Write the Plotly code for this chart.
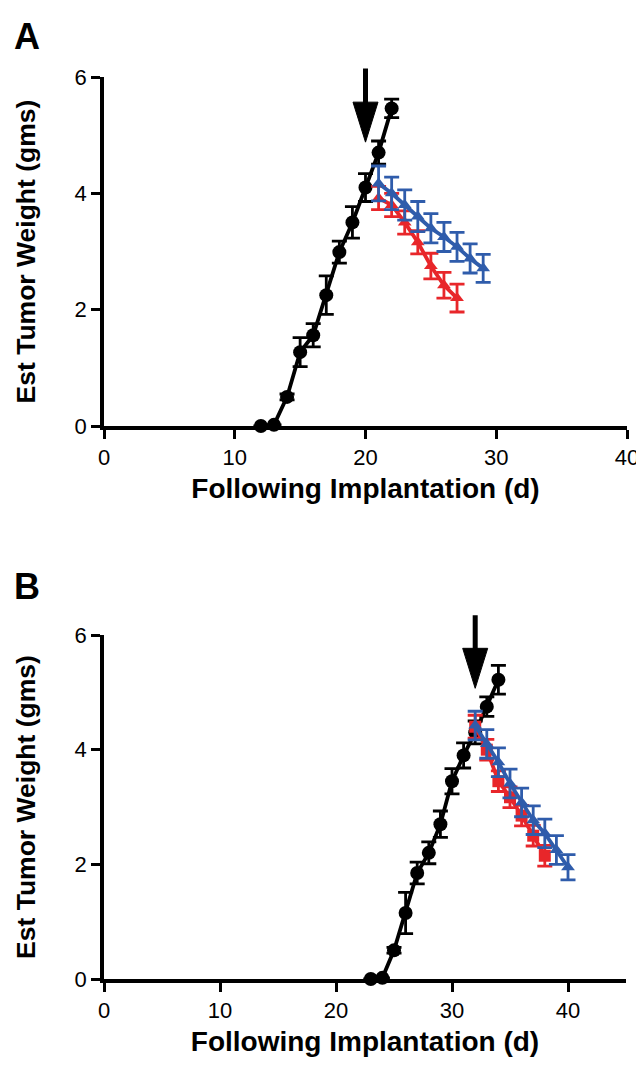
import plotly.graph_objects as go

# ---------------- data ----------------
# Panel A
a_black_day = [12, 13, 14, 15, 16, 17, 18, 19, 20, 21, 22]
a_black_wt = [0.0, 0.02, 0.5, 1.27, 1.56, 2.25, 2.99, 3.5, 4.1, 4.7, 5.46]
a_black_err = [0.0, 0.0, 0.05, 0.25, 0.2, 0.33, 0.19, 0.27, 0.24, 0.2, 0.16]

a_red_day = [21, 22, 23, 24, 25, 26, 27]
a_red_wt = [3.92, 3.8, 3.5, 3.16, 2.75, 2.42, 2.2]
a_red_err = [0.2, 0.2, 0.2, 0.2, 0.22, 0.22, 0.24]

a_blue_day = [21, 22, 23, 24, 25, 26, 27, 28, 29]
a_blue_wt = [4.17, 4.0, 3.8, 3.6, 3.4, 3.25, 3.08, 2.88, 2.71]
a_blue_err = [0.3, 0.28, 0.26, 0.26, 0.25, 0.25, 0.25, 0.25, 0.24]

# Panel B
b_black_day = [23, 24, 25, 26, 27, 28, 29, 30, 31, 32, 33, 34]
b_black_wt = [0.0, 0.02, 0.5, 1.15, 1.85, 2.2, 2.7, 3.45, 3.9, 4.3, 4.75, 5.22]
b_black_err = [0.0, 0.0, 0.05, 0.36, 0.19, 0.19, 0.23, 0.22, 0.22, 0.2, 0.17, 0.25]

b_red_day = [32, 33, 34, 35, 36, 37, 38]
b_red_wt = [4.4, 4.0, 3.45, 3.17, 2.85, 2.5, 2.15]
b_red_err = [0.2, 0.18, 0.18, 0.18, 0.18, 0.18, 0.18]

b_blue_day = [32, 33, 34, 35, 36, 37, 38, 39, 40]
b_blue_wt = [4.42, 4.1, 3.78, 3.41, 3.08, 2.77, 2.54, 2.25, 1.95]
b_blue_err = [0.25, 0.25, 0.25, 0.25, 0.25, 0.25, 0.25, 0.25, 0.22]

# treatment arrows: (day, tip weight, tail weight)
arrow_a = (20, 4.88, 6.17)
arrow_b = (32, 5.07, 6.37)

x_ticks_a = [0, 10, 20, 30, 40]
x_ticks_b = [0, 10, 20, 30, 40]
y_ticks = [0, 2, 4, 6]

x_title = "Following Implantation (d)"
y_title = "Est Tumor Weight (gms)"

BLACK = "#000000"
RED = "#e8262a"
BLUE = "#2f5cab"
FONT = "Liberation Sans"

OFF = 8  # page body margin
W, H = 644 - OFF, 1070 - 2 * OFF
# plot-area edges in screen pixels
L_S, R_S, T_S, B_S = 104, 627, 77, 979
ML, MT = L_S - OFF, T_S - OFF
MR = W - (R_S - OFF)
MB = H - (B_S - OFF)
PW = W - ML - MR
PH = H - MT - MB


def px(v):
    """screen x pixel -> paper fraction"""
    return (v - L_S) / PW


def py(v):
    """screen y pixel -> paper fraction"""
    return (B_S - v) / PH


fig = go.Figure()


def add_series(xs, ys, errs, color, symbol, size, xa, ya, lw=3.8):
    fig.add_trace(go.Scatter(
        x=xs, y=ys, mode="lines+markers",
        line=dict(color=color, width=lw),
        marker=dict(color=color, symbol=symbol, size=size,
                    line=dict(width=0)),
        error_y=dict(type="data", array=errs, visible=True,
                     color=color, thickness=2.8, width=7.5),
        xaxis=xa, yaxis=ya, cliponaxis=False, showlegend=False,
    ))


# Panel A
add_series(a_black_day, a_black_wt, a_black_err, BLACK, "circle", 14, "x", "y")
add_series(a_red_day, a_red_wt, a_red_err, RED, "triangle-up", 12, "x", "y")
add_series(a_blue_day, a_blue_wt, a_blue_err, BLUE, "triangle-up", 12, "x", "y")
# Panel B
add_series(b_black_day, b_black_wt, b_black_err, BLACK, "circle", 14, "x2", "y2")
add_series(b_red_day, b_red_wt, b_red_err, RED, "square", 12, "x2", "y2")
add_series(b_blue_day, b_blue_wt, b_blue_err, BLUE, "triangle-up", 12, "x2", "y2")

axis_common = dict(
    showline=True, linecolor="black", linewidth=3.5,
    ticks="outside", ticklen=9, tickwidth=3, tickcolor="black",
    showgrid=False, zeroline=False, automargin=False,
    tickfont=dict(family=FONT, size=22, color="black"),
)
xt_font = dict(family=FONT, size=28, color="black")
yt_font = dict(family=FONT, size=26.5, color="black")

fig.update_layout(
    width=W, height=H,
    margin=dict(l=ML, r=MR, t=MT, b=MB),
    paper_bgcolor="white", plot_bgcolor="white",
    xaxis=dict(domain=[px(104), px(627)], range=[0, 40],
               tickvals=x_ticks_a, anchor="y",
               title=dict(text="<b>" + x_title + "</b>", standoff=10,
                          font=xt_font),
               **axis_common),
    yaxis=dict(domain=[py(426), py(77)], range=[0, 6],
               tickvals=y_ticks, anchor="x",
               title=dict(text="<b>" + y_title + "</b>", standoff=32,
                          font=yt_font),
               **axis_common),
    xaxis2=dict(domain=[px(104), px(626)], range=[0, 45],
                tickvals=x_ticks_b, anchor="y2",
                title=dict(text="<b>" + x_title + "</b>", standoff=10,
                           font=xt_font),
                **axis_common),
    yaxis2=dict(domain=[py(979), py(635)], range=[0, 6],
                tickvals=y_ticks, anchor="x2",
                title=dict(text="<b>" + y_title + "</b>", standoff=32,
                           font=yt_font),
                **axis_common),
)

# panel letters
fig.add_annotation(text="<b>A</b>", xref="paper", yref="paper",
                   x=px(12), y=py(14), xanchor="left", yanchor="top",
                   showarrow=False, font=dict(family=FONT, size=36, color="black"))
fig.add_annotation(text="<b>B</b>", xref="paper", yref="paper",
                   x=px(12), y=py(564), xanchor="left", yanchor="top",
                   showarrow=False, font=dict(family=FONT, size=36, color="black"))

# arrows: shaft as an (unclipped) annotation line, head as a filled triangle
for (day, tip, tail), xr, yr in [(arrow_a, "x", "y"), (arrow_b, "x2", "y2")]:
    fig.add_annotation(x=day, y=tip + 0.3, ax=day, ay=tail,
                       xref=xr, yref=yr, axref=xr, ayref=yr,
                       text="", showarrow=True, arrowhead=0,
                       arrowwidth=5, arrowcolor="black")
    fig.add_shape(type="path", xref=xr, yref=yr,
                  xsizemode="pixel", ysizemode="pixel",
                  xanchor=day, yanchor=tip,
                  path="M0,0 L-12.5,40 L12.5,40 Z",
                  fillcolor="black", line=dict(color="black", width=1))

fig.write_html("out.html")
